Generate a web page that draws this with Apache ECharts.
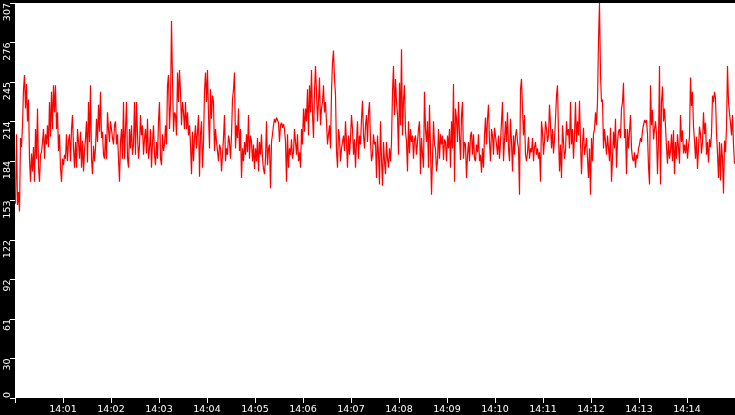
<!DOCTYPE html>
<html>
<head>
<meta charset="utf-8">
<script src="https://cdn.jsdelivr.net/npm/echarts@6/dist/echarts.min.js"></script>
<style>
  html, body { margin: 0; padding: 0; background: #000; }
  #chart { width: 735px; height: 415px; }
</style>
</head>
<body>
<div id="chart"></div>
<script>
// 14:00 -> 14:15, samples, evenly spaced
const startTime = new Date(2020, 0, 1, 14, 0, 0).getTime()
const endTime = new Date(2020, 0, 1, 14, 15, 0).getTime()

const values = [
  151, 205, 150, 160, 145, 202, 195, 212, 240, 251,
  225, 244, 215, 232, 186, 168, 190, 176, 195, 168,
  209, 186, 225, 179, 168, 189, 191, 199, 209, 186,
  205, 197, 212, 195, 230, 203, 238, 209, 243, 222,
  243, 209, 222, 192, 205, 179, 168, 186, 181, 189,
  186, 205, 184, 200, 205, 184, 209, 220, 194, 179,
  199, 179, 209, 199, 186, 207, 179, 200, 176, 192,
  202, 215, 183, 230, 199, 243, 186, 174, 196, 184,
  194, 217, 199, 228, 207, 238, 202, 207, 189, 186,
  205, 186, 222, 209, 199, 215, 209, 202, 197, 212,
  215, 197, 205, 186, 168, 199, 209, 186, 230, 186,
  209, 230, 186, 179, 209, 194, 212, 189, 197, 230,
  189, 230, 205, 186, 196, 220, 204, 212, 189, 202,
  209, 190, 217, 186, 194, 209, 179, 199, 212, 189,
  181, 199, 186, 215, 230, 186, 181, 205, 192, 197,
  212, 197, 243, 251, 209, 228, 293, 248, 207, 222,
  220, 204, 253, 230, 255, 238, 212, 230, 222, 209,
  230, 209, 222, 204, 212, 197, 174, 207, 184, 202,
  212, 194, 207, 220, 172, 205, 215, 179, 199, 238,
  253, 230, 255, 220, 194, 240, 217, 235, 230, 192,
  209, 199, 192, 184, 197, 194, 176, 189, 202, 220,
  184, 194, 189, 204, 199, 186, 204, 232, 240, 253,
  194, 212, 202, 225, 192, 209, 171, 194, 184, 199,
  189, 205, 191, 220, 186, 204, 199, 184, 197, 178,
  194, 184, 202, 176, 199, 189, 205, 186, 178, 174,
  186, 215, 181, 194, 197, 163, 199, 205, 212, 217,
  214, 218, 216, 214, 199, 212, 214, 210, 213, 209,
  199, 168, 205, 179, 194, 189, 201, 186, 191, 209,
  199, 189, 205, 184, 191, 179, 209, 197, 225, 207,
  225, 215, 240, 204, 243, 222, 255, 220, 202, 238,
  258, 238, 215, 230, 249, 212, 225, 230, 243, 222,
  230, 215, 197, 205, 212, 194, 238, 261, 270, 248,
  236, 192, 179, 209, 202, 184, 194, 199, 204, 192,
  215, 199, 179, 204, 189, 202, 220, 209, 189, 201,
  179, 199, 215, 186, 204, 197, 217, 231, 204, 194,
  212, 220, 199, 222, 230, 199, 184, 189, 205, 197,
  199, 171, 204, 189, 166, 215, 186, 165, 199, 184,
  174, 199, 186, 179, 194, 184, 199, 238, 258, 220,
  248, 230, 220, 189, 245, 212, 271, 204, 232, 243,
  207, 199, 176, 215, 190, 209, 199, 204, 186, 201,
  204, 189, 199, 209, 215, 174, 202, 189, 179, 238,
  209, 199, 215, 179, 228, 194, 158, 186, 215, 197,
  194, 176, 184, 209, 186, 205, 197, 204, 185, 201,
  199, 184, 204, 194, 209, 179, 215, 194, 244, 168,
  225, 217, 199, 230, 204, 185, 220, 230, 186, 199,
  197, 171, 189, 199, 184, 204, 207, 189, 205, 186,
  184, 197, 191, 205, 184, 189, 175, 194, 179, 204,
  218, 197, 217, 228, 199, 184, 209, 204, 189, 210,
  209, 197, 189, 204, 186, 199, 215, 230, 184, 200,
  215, 199, 222, 194, 184, 217, 199, 176, 204, 189,
  204, 209, 199, 194, 158, 240, 248, 225, 204, 220,
  189, 184, 191, 203, 186, 194, 191, 202, 184, 195,
  199, 189, 194, 186, 191, 168, 215, 207, 189, 200,
  215, 209, 199, 204, 228, 212, 194, 209, 190, 201,
  217, 235, 243, 204, 176, 197, 171, 212, 199, 186,
  192, 215, 204, 209, 194, 230, 197, 209, 186, 204,
  230, 199, 215, 204, 231, 199, 174, 197, 210, 189,
  189, 202, 186, 171, 194, 158, 202, 184, 205, 209,
  222, 212, 230, 278, 307, 251, 230, 232, 194, 209,
  199, 189, 204, 194, 184, 210, 168, 186, 207, 194,
  217, 179, 199, 207, 209, 202, 225, 230, 245, 202,
  209, 174, 209, 194, 207, 220, 194, 186, 184, 191,
  179, 189, 186, 194, 197, 202, 199, 208, 212, 216,
  214, 216, 205, 180, 166, 243, 212, 224, 201, 209,
  215, 205, 174, 199, 258, 166, 230, 242, 215, 225,
  211, 195, 182, 200, 186, 192, 205, 184, 208, 174,
  199, 186, 205, 195, 182, 220, 199, 208, 190, 197,
  190, 201, 186, 196, 203, 249, 227, 238, 211, 200,
  186, 203, 178, 194, 211, 205, 190, 199, 222, 205,
  214, 189, 199, 183, 201, 195, 205, 235, 230, 238,
  233, 206, 190, 171, 199, 169, 198, 186, 159, 200,
  191, 210, 258, 230, 221, 214, 204, 220, 197, 182
]

const yMax = 307
const yStep = 30.7

const step = (endTime - startTime) / values.length
const points = values.map((v, i) => [startTime + (i + 0.5) * step, v])

const pad = n => (n < 10 ? '0' : '') + n

const chart = echarts.init(document.getElementById('chart'))

chart.setOption({
  animation: false,
  backgroundColor: '#000',
  grid: {
    left: 15,
    right: 0,
    top: 0,
    bottom: 16,
    show: true,
    backgroundColor: '#fff',
    borderWidth: 0
  },
  xAxis: {
    type: 'time',
    min: startTime,
    max: endTime,
    interval: 60000,
    minInterval: 60000,
    maxInterval: 60000,
    axisLine: { show: false },
    axisTick: { show: true, length: 5, lineStyle: { color: '#fff', width: 1 } },
    splitLine: { show: false },
    axisLabel: {
      color: '#fff',
      fontFamily: 'DejaVu Sans',
      fontSize: 9.5,
      margin: 7,
      formatter: v => {
        if (v <= startTime || v >= endTime) return ''
        const d = new Date(v)
        return pad(d.getHours()) + ':' + pad(d.getMinutes())
      }
    }
  },
  yAxis: {
    type: 'value',
    min: 0,
    max: yMax,
    interval: yStep,
    axisLine: { show: false },
    axisTick: { show: true, length: 5, lineStyle: { color: '#fff', width: 1 } },
    splitLine: { show: false },
    axisLabel: {
      color: '#fff',
      fontFamily: 'DejaVu Sans',
      fontSize: 9.5,
      margin: 2,
      rotate: 90,
      align: 'right',
      alignMinLabel: 'left',
      alignMaxLabel: 'right',
      formatter: v => String(Math.floor(v + 1e-6))
    }
  },
  series: [{
    type: 'line',
    data: points,
    showSymbol: false,
    symbol: 'none',
    sampling: null,
    lineStyle: { color: '#ff0000', width: 1.2 },
    itemStyle: { color: '#ff0000' }
  }]
})
</script>
</body>
</html>
